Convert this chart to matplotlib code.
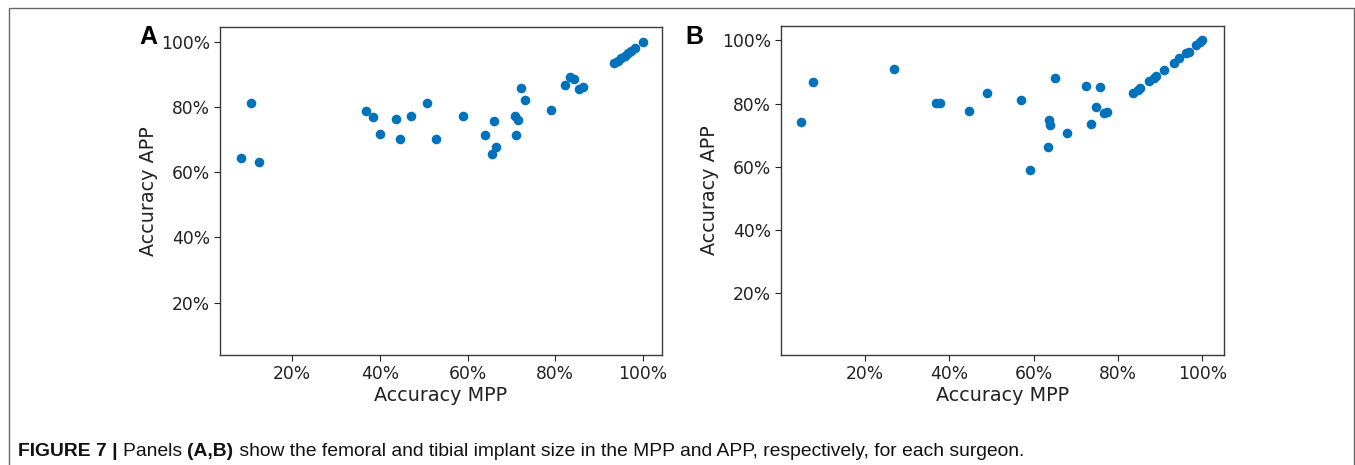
import matplotlib
matplotlib.use("Agg")
import matplotlib.pyplot as plt
from matplotlib.ticker import PercentFormatter, FixedLocator
from matplotlib.patches import Rectangle
from matplotlib.text import Annotation

# Panel A: femoral implant size accuracy (%)
a_mpp = [8.3, 10.6, 12.5, 36.9, 38.5, 40.0, 43.8, 44.5, 47.1, 50.8, 52.8, 58.9,
         64.0, 66.1, 66.4, 65.6, 70.7, 71.4, 71.1, 72.2, 73.0, 78.9, 82.1, 83.4,
         84.3, 85.4, 86.4, 93.4, 94.2, 95.0, 95.8, 96.5, 97.3, 98.1, 100.0]
a_app = [64.5, 81.2, 63.3, 78.9, 77.0, 71.6, 76.4, 70.2, 77.4, 81.3, 70.2, 77.3,
         71.4, 75.6, 67.7, 65.6, 77.3, 75.9, 71.4, 85.8, 82.2, 79.1, 86.8, 89.2,
         88.6, 85.5, 86.3, 93.5, 94.3, 95.0, 95.7, 96.5, 97.3, 98.3, 100.0]

# Panel B: tibial implant size accuracy (%)
b_mpp = [4.8, 7.6, 26.8, 36.9, 37.8, 44.6, 48.9, 57.0, 65.0, 63.6, 63.9, 63.4,
         59.1, 67.8, 72.3, 75.7, 74.7, 73.5, 76.7, 77.3,
         83.5, 84.6, 85.2, 87.4, 88.6, 89.1, 90.8, 93.3, 94.4, 96.2, 96.8, 98.5,
         99.3, 100.0]
b_app = [74.0, 86.8, 91.1, 80.2, 80.2, 77.6, 83.4, 81.0, 88.1, 74.9, 73.3, 66.3,
         59.0, 70.5, 85.7, 85.4, 79.0, 73.5, 77.0, 77.3,
         83.3, 84.3, 84.8, 87.0, 88.1, 88.6, 90.7, 92.8, 94.4, 96.0, 96.5, 98.6,
         99.4, 100.0]

ticks = [20, 40, 60, 80, 100]
panel_labels = ["A", "B"]
xlabel = "Accuracy MPP"
ylabel = "Accuracy APP"
caption_parts = [("FIGURE 7 | ", "bold"), ("Panels ", "normal"), ("(A,B)", "bold"),
                 (" show the femoral and tibial implant size in the MPP and APP, respectively, for each surgeon.", "normal")]

W, H = 1355, 465
fig = plt.figure(figsize=(W / 100, H / 100), dpi=100)

def px_rect(l, t, r, b):
    return [l / W, 1 - b / H, (r - l) / W, (b - t) / H]

dot_color = "#0072bb"
spine_col = "#3a3a3a"

axA = fig.add_axes(px_rect(220, 27, 662, 355))
axB = fig.add_axes(px_rect(781, 26, 1224, 355))

cfgs = [
    (axA, a_mpp, a_app, (3.6, 104.3), (3.9, 104.6)),
    (axB, b_mpp, b_app, (0.1, 105.1), (0.2, 104.6)),
]
for ax, xs, ys, xl, yl in cfgs:
    ax.scatter(xs, ys, s=48, color=dot_color, zorder=3, linewidths=0)
    ax.set_xlim(*xl)
    ax.set_ylim(*yl)
    ax.xaxis.set_major_locator(FixedLocator(ticks))
    ax.yaxis.set_major_locator(FixedLocator(ticks))
    ax.xaxis.set_major_formatter(PercentFormatter(xmax=100, decimals=0))
    ax.yaxis.set_major_formatter(PercentFormatter(xmax=100, decimals=0))
    ax.tick_params(labelsize=12.3, colors="#222222", length=4, width=0.8, pad=3)
    for sp in ax.spines.values():
        sp.set_color(spine_col)
        sp.set_linewidth(1.0)
    ax.set_xlabel(xlabel, fontsize=13.8, color="#222222", labelpad=2)
    ax.set_ylabel(ylabel, fontsize=13.8, color="#222222", labelpad=2)

fig.text(139 / W, 1 - 25 / H, panel_labels[0], fontsize=18, fontweight="bold",
         family="Liberation Sans", va="top", ha="left")
fig.text(685 / W, 1 - 25 / H, panel_labels[1], fontsize=18, fontweight="bold",
         family="Liberation Sans", va="top", ha="left")

# Outer frame
fig.patches.append(Rectangle((9 / W, -0.05), (1354 - 9) / W, 1.05 - 8 / H,
                             transform=fig.transFigure, fill=False,
                             edgecolor="#666666", linewidth=1.0))

# Caption with mixed weights, chained piece by piece
cap_fs = 13.9
prev = fig.text(18 / W, 1 - 456 / H, caption_parts[0][0], fontsize=cap_fs,
                fontweight=caption_parts[0][1], family="Liberation Sans",
                va="baseline", ha="left", color="#111111")
for txt, wt in caption_parts[1:]:
    prev = fig.add_artist(Annotation(txt, xy=(1, 0), xycoords=prev,
                                     va="bottom", ha="left", fontsize=cap_fs,
                                     fontweight=wt, family="Liberation Sans",
                                     color="#111111"))

fig.savefig("out.png", dpi=100)
